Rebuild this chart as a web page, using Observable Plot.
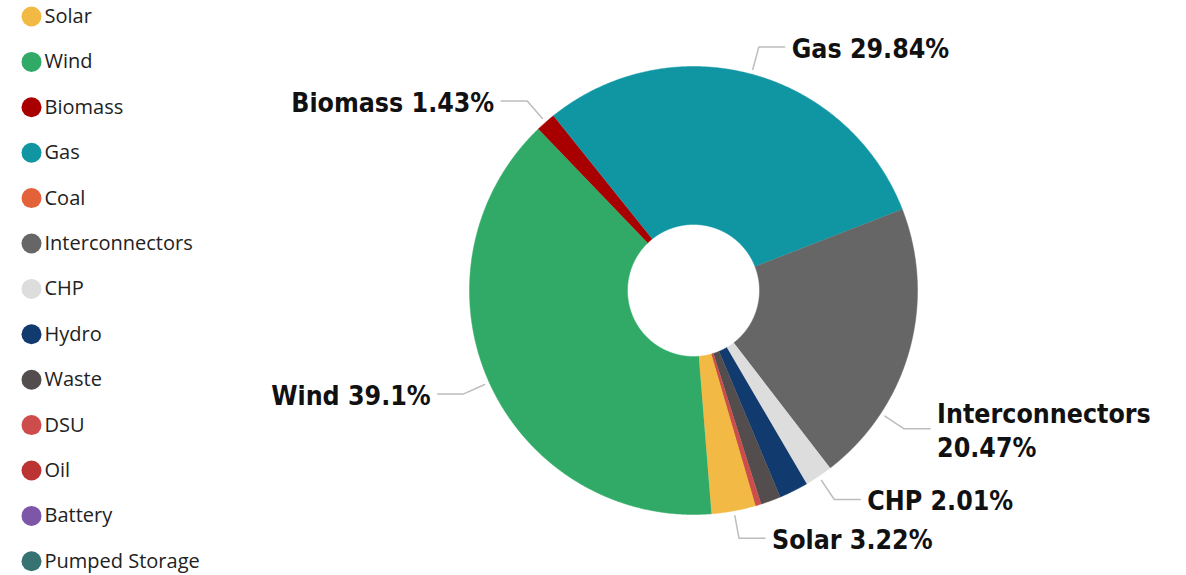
<!DOCTYPE html>
<html>
<head>
<meta charset="utf-8">
<script src="https://cdn.jsdelivr.net/npm/d3@7"></script>
<script src="https://cdn.jsdelivr.net/npm/@observablehq/plot@0.6"></script>
<style>
  html, body { margin: 0; padding: 0; background: #fff; }
  #chart svg { display: block; }
</style>
</head>
<body>
<div id="chart"></div>
<script>
// ---- data ----
const categories = ["Solar", "Wind", "Biomass", "Gas", "Coal", "Interconnectors", "CHP", "Hydro", "Waste", "DSU", "Oil", "Battery", "Pumped Storage"];
const shares     = [3.22, 39.1, 1.43, 29.84, 0, 20.47, 2.01, 2.1, 1.45, 0.35, 0.03, 0, 0];
const colors     = ["#F2B944", "#30AA66", "#A80000", "#1096A2", "#E3623A", "#666666", "#DDDDDD", "#113A6E", "#534D4D", "#CD4C4C", "#BB3333", "#7E56A8", "#357271"];
const labelled   = ["Gas", "Biomass", "Wind", "Interconnectors", "CHP", "Solar"];

// ---- layout ----
const W = 1186, H = 575;
const cx = 693, cy = 290, R = 224, r0 = 66;
const startDeg = 163.8;
const labelAngleOverride = {Interconnectors: 123.3};
const rad = Math.PI / 180;

const rows = categories.map((name, i) => ({name, share: shares[i]}));
const arcs = d3.pie().sort(null).value(d => d.share)
  .startAngle(startDeg * rad).endAngle(startDeg * rad + 2 * Math.PI)(rows);

const pt = (a, rr) => [cx + rr * Math.sin(a), cy - rr * Math.cos(a)];

// slice polygons
const poly = [];
for (const a of arcs) {
  if (a.data.share <= 0) continue;
  const n = Math.max(2, Math.ceil((a.endAngle - a.startAngle) / 0.005));
  for (let k = 0; k <= n; k++) {
    const t = a.startAngle + (a.endAngle - a.startAngle) * k / n;
    const [x, y] = pt(t, R);
    poly.push({name: a.data.name, x, y});
  }
  for (let k = n; k >= 0; k--) {
    const t = a.startAngle + (a.endAngle - a.startAngle) * k / n;
    const [x, y] = pt(t, r0);
    poly.push({name: a.data.name, x, y});
  }
}

// labels + leaders
const leaders = [], labels = [];
for (const a of arcs) {
  const name = a.data.name;
  if (!labelled.includes(name)) continue;
  const mid = name in labelAngleOverride ? labelAngleOverride[name] * rad : (a.startAngle + a.endAngle) / 2;
  const right = Math.sin(mid) > 0;
  const p0 = pt(mid, R + 5), p1 = pt(mid, R + 28);
  const p2 = [p1[0] + (right ? 26 : -26), p1[1]];
  leaders.push({name, x: p0[0], y: p0[1]}, {name, x: p1[0], y: p1[1]}, {name, x: p2[0], y: p2[1]});
  const txt = name.length > 10 ? `${name}\n${a.data.share}%` : `${name} ${a.data.share}%`;
  labels.push({name, txt, x: p2[0] + (right ? 7 : -7), y: p2[1], anchor: right ? "start" : "end"});
}
const labelsR = labels.filter(d => d.anchor === "start");
const labelsL = labels.filter(d => d.anchor === "end");

const legendX = 31, legendTop = 16, legendStep = 45.4;

const plot = Plot.plot({
  width: W, height: H,
  margin: 0,
  x: {domain: [0, W], range: [0, W], axis: null},
  y: {domain: [0, H], range: [0, H], axis: null},
  color: {domain: categories, range: colors},
  marks: [
    Plot.line(poly, {x: "x", y: "y", z: "name", fill: "name", stroke: "name", strokeWidth: 0.5, curve: "linear"}),
    Plot.line(leaders, {x: "x", y: "y", z: "name", stroke: "#BDBDBD", strokeWidth: 1.5}),
    Plot.text(labelsR, {x: "x", y: "y", text: "txt", textAnchor: "start", lineAnchor: "middle", lineHeight: 1.28,
      fontFamily: "DejaVu Sans Condensed, DejaVu Sans", fontWeight: "bold", fontSize: 26.5, fill: "#111"}),
    Plot.text(labelsL, {x: "x", y: "y", text: "txt", textAnchor: "end", lineAnchor: "middle", lineHeight: 1.28,
      fontFamily: "DejaVu Sans Condensed, DejaVu Sans", fontWeight: "bold", fontSize: 26.5, fill: "#111"}),
    Plot.dot(rows, {x: () => legendX, y: (d, i) => legendTop + i * legendStep, r: 10, fill: "name"}),
    Plot.text(rows, {x: () => legendX + 13, y: (d, i) => legendTop + i * legendStep, text: "name",
      textAnchor: "start", lineAnchor: "middle", fontFamily: "Open Sans", fontSize: 20, fill: "#222"})
  ]
});
document.getElementById("chart").appendChild(plot);
</script>
</body>
</html>
